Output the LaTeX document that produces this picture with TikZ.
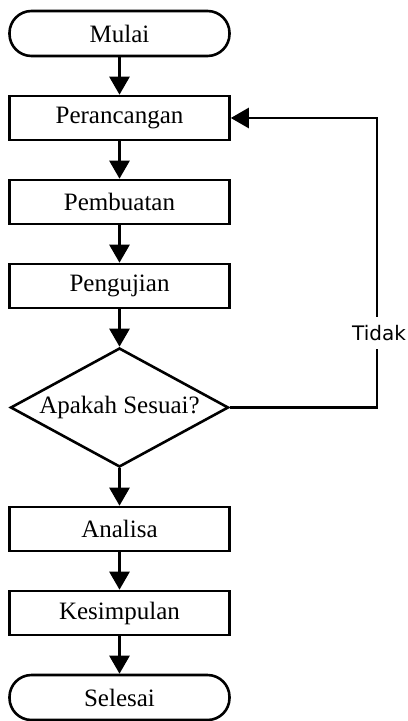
\documentclass[tikz,border=0pt]{standalone}
\usepackage{fontspec}
\setmainfont{Liberation Serif}
\newfontfamily\labelfont{DejaVu Sans}
\usetikzlibrary{arrows.meta,positioning,shapes.geometric}

\begin{document}
\begin{tikzpicture}[node distance=18.7pt, >={Triangle[width=10pt,length=9pt]}, line width=1.3pt,
  every node/.style={font=\fontsize{12.5}{14}\selectfont},
  procbox/.style={draw,minimum width=110pt,minimum height=22pt,inner sep=0pt,align=center},
  termbox/.style={draw,rounded corners=11pt,minimum width=110pt,minimum height=22.5pt,inner sep=0pt,align=center},
  decbox/.style={draw,diamond,aspect=1.83,minimum width=109pt,minimum height=59.5pt,inner sep=0pt,align=center}]
  \useasboundingbox (0,0) rectangle (203.5pt,-360.5pt);
  \node[termbox] (mulai) at (59.75pt,-16.75pt) {Mulai};
  \node[procbox,below=of mulai] (rancang) {Perancangan};
  \node[procbox,below=of rancang] (buat) {Pembuatan};
  \node[procbox,below=of buat] (uji) {Pengujian};
  \node[decbox,below=of uji] (cek) {Apakah Sesuai?};
  \node[procbox,below=of cek] (analisa) {Analisa};
  \node[procbox,below=of analisa] (simpul) {Kesimpulan};
  \node[termbox,below=of simpul] (selesai) {Selesai};
  \coordinate (kanan) at (188.5pt,0);
  \draw[->] (mulai)--(rancang); \draw[->] (rancang)--(buat);
  \draw[->] (buat)--(uji); \draw[->] (uji)--(cek);
  \draw[->] (cek)--(analisa); \draw[->] (analisa)--(simpul);
  \draw[->] (simpul)--(selesai);
  \draw[->] (cek.east) -- (cek.east -| kanan) -- (rancang.east -| kanan) -- (rancang.east);
  \node[fill=white,inner sep=4pt,font=\labelfont\fontsize{10}{12}\selectfont] (tidak) at (189.5pt,-166.5pt) {Tidak};
\end{tikzpicture}
\end{document}
